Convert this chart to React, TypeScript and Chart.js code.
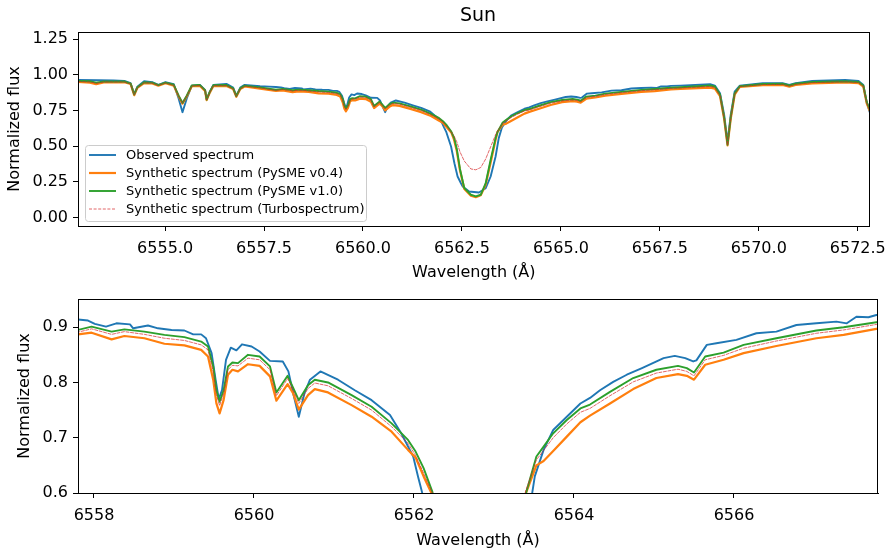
import React, { useEffect, useRef } from "react";
import { Chart, registerables } from "chart.js";

Chart.register(...registerables);

// ---------- data ----------
const obsWavelength = [
  6552.8, 6553.3, 6553.7, 6553.97, 6554.13, 6554.22, 6554.3, 6554.47, 6554.675, 6554.83,
  6555.01, 6555.22, 6555.34, 6555.44, 6555.55, 6555.675, 6555.88, 6556.01, 6556.05, 6556.13,
  6556.22, 6556.55, 6556.72, 6556.8, 6556.9, 6557.01, 6557.4, 6557.63, 6557.8, 6557.925,
  6558.01, 6558.15, 6558.28, 6558.45, 6558.49, 6558.675, 6558.8, 6558.97, 6559.13, 6559.24,
  6559.34, 6559.4, 6559.47, 6559.52, 6559.56, 6559.6, 6559.65, 6559.71, 6559.78, 6559.85,
  6559.97, 6560.07, 6560.2, 6560.36, 6560.43, 6560.49, 6560.56, 6560.63, 6560.7, 6560.83,
  6561.05, 6561.26, 6561.47, 6561.7, 6561.84, 6561.99, 6562.05, 6562.1, 6562.225, 6562.31,
  6562.39, 6562.475, 6562.52, 6562.68, 6562.93, 6563.1, 6563.225, 6563.35, 6563.43, 6563.51,
  6563.62, 6563.74, 6563.91, 6564.08, 6564.2, 6564.325, 6564.49, 6564.66, 6564.85, 6565.12,
  6565.26, 6565.39, 6565.49, 6565.53, 6565.66, 6565.78, 6566.03, 6566.28, 6566.53, 6566.78,
  6567.03, 6567.28, 6567.41, 6567.53, 6567.68, 6567.78, 6568.02, 6568.77, 6568.89, 6569.02,
  6569.125, 6569.21, 6569.29, 6569.39, 6569.52, 6570.1, 6570.6, 6570.77, 6570.93, 6571.35,
  6572.18, 6572.52, 6572.64, 6572.725, 6572.8,
];
const obsFlux = [
  0.963, 0.962, 0.96, 0.957, 0.941, 0.864, 0.917, 0.955, 0.948, 0.929,
  0.948, 0.934, 0.836, 0.738, 0.836, 0.924, 0.929, 0.894, 0.829, 0.882,
  0.929, 0.936, 0.91, 0.854, 0.91, 0.929, 0.92, 0.917, 0.914, 0.912,
  0.906, 0.901, 0.907, 0.905, 0.898, 0.903, 0.898, 0.895, 0.894, 0.887,
  0.887, 0.88, 0.853, 0.805, 0.77, 0.786, 0.841, 0.863, 0.858, 0.869,
  0.865, 0.856, 0.839, 0.838, 0.82, 0.78, 0.738, 0.78, 0.805, 0.82,
  0.805, 0.786, 0.768, 0.741, 0.708, 0.666, 0.63, 0.602, 0.497, 0.38,
  0.287, 0.24, 0.217, 0.182, 0.175, 0.205, 0.287, 0.427, 0.556, 0.63,
  0.678, 0.714, 0.738, 0.762, 0.772, 0.786, 0.801, 0.814, 0.826, 0.844,
  0.848, 0.844, 0.838, 0.84, 0.868, 0.871, 0.877, 0.889, 0.892, 0.904,
  0.907, 0.91, 0.907, 0.919, 0.918, 0.922, 0.924, 0.934, 0.924, 0.871,
  0.719, 0.53, 0.719, 0.882, 0.924, 0.941, 0.941, 0.929, 0.941, 0.957,
  0.964, 0.957, 0.929, 0.812, 0.74,
];

const synthWavelength = [
  6552.8, 6553.1, 6553.26, 6553.45, 6553.97, 6554.13, 6554.22, 6554.3, 6554.47, 6554.675,
  6554.83, 6555.01, 6555.22, 6555.34, 6555.44, 6555.55, 6555.675, 6555.88, 6556.01, 6556.05,
  6556.13, 6556.22, 6556.55, 6556.72, 6556.8, 6556.9, 6557.01, 6557.4, 6557.8, 6557.97,
  6558.22, 6558.38, 6558.63, 6558.88, 6559.13, 6559.34, 6559.425, 6559.49, 6559.53, 6559.57,
  6559.62, 6559.675, 6559.73, 6559.8, 6559.925, 6560.07, 6560.2, 6560.28, 6560.42, 6560.49,
  6560.56, 6560.675, 6560.76, 6560.925, 6561.22, 6561.47, 6561.72, 6561.925, 6562.02, 6562.12,
  6562.23, 6562.3, 6562.37, 6562.45, 6562.56, 6562.725, 6562.85, 6562.975, 6563.1, 6563.225,
  6563.35, 6563.4, 6563.53, 6563.62, 6563.74, 6563.91, 6564.08, 6564.2, 6564.45, 6564.74,
  6565.03, 6565.3, 6565.41, 6565.5, 6565.64, 6565.87, 6566.12, 6566.53, 6567.03, 6567.37,
  6567.78, 6568.02, 6568.77, 6568.89, 6569.02, 6569.125, 6569.21, 6569.29, 6569.39, 6569.52,
  6570.1, 6570.6, 6570.77, 6570.93, 6571.35, 6572.18, 6572.52, 6572.64, 6572.725, 6572.8,
];
const pysme04Flux = [
  0.95, 0.945, 0.935, 0.946, 0.948, 0.935, 0.857, 0.908, 0.941, 0.94,
  0.924, 0.941, 0.924, 0.85, 0.798, 0.85, 0.92, 0.922, 0.887, 0.822,
  0.875, 0.921, 0.922, 0.9, 0.846, 0.9, 0.918, 0.903, 0.887, 0.89,
  0.878, 0.884, 0.88, 0.87, 0.867, 0.859, 0.847, 0.805, 0.762, 0.744,
  0.768, 0.814, 0.823, 0.82, 0.833, 0.83, 0.811, 0.767, 0.797, 0.78,
  0.751, 0.777, 0.788, 0.782, 0.759, 0.738, 0.711, 0.678, 0.664, 0.63,
  0.596, 0.545, 0.465, 0.33, 0.2, 0.152, 0.142, 0.155, 0.23, 0.385,
  0.545, 0.6, 0.65, 0.658, 0.676, 0.702, 0.728, 0.74, 0.762, 0.788,
  0.808, 0.815, 0.812, 0.805, 0.832, 0.841, 0.853, 0.866, 0.88, 0.886,
  0.897, 0.901, 0.91, 0.903, 0.85, 0.69, 0.505, 0.69, 0.86, 0.915,
  0.927, 0.929, 0.917, 0.929, 0.94, 0.947, 0.941, 0.918, 0.8, 0.75,
];
const pysme10Flux = [
  0.957, 0.955, 0.945, 0.953, 0.953, 0.938, 0.862, 0.912, 0.948, 0.945,
  0.928, 0.945, 0.93, 0.855, 0.803, 0.855, 0.925, 0.928, 0.892, 0.826,
  0.88, 0.927, 0.928, 0.905, 0.85, 0.905, 0.924, 0.912, 0.895, 0.901,
  0.892, 0.896, 0.892, 0.886, 0.882, 0.874, 0.865, 0.829, 0.786, 0.765,
  0.786, 0.829, 0.836, 0.835, 0.85, 0.847, 0.829, 0.782, 0.812, 0.79,
  0.768, 0.795, 0.805, 0.8, 0.777, 0.756, 0.726, 0.696, 0.675, 0.645,
  0.602, 0.56, 0.48, 0.34, 0.205, 0.159, 0.147, 0.159, 0.24, 0.404,
  0.556, 0.6, 0.666, 0.684, 0.708, 0.732, 0.753, 0.76, 0.783, 0.808,
  0.823, 0.83, 0.826, 0.818, 0.847, 0.854, 0.868, 0.88, 0.894, 0.9,
  0.909, 0.913, 0.925, 0.918, 0.862, 0.7, 0.51, 0.7, 0.87, 0.92,
  0.935, 0.937, 0.925, 0.937, 0.95, 0.955, 0.95, 0.925, 0.81, 0.76,
];
const turboFlux = [
  0.953, 0.95, 0.94, 0.95, 0.95, 0.936, 0.86, 0.91, 0.945, 0.942,
  0.926, 0.943, 0.927, 0.852, 0.8, 0.852, 0.922, 0.925, 0.89, 0.824,
  0.878, 0.924, 0.925, 0.902, 0.848, 0.902, 0.921, 0.908, 0.891, 0.897,
  0.887, 0.892, 0.887, 0.88, 0.876, 0.868, 0.859, 0.82, 0.778, 0.758,
  0.78, 0.823, 0.831, 0.83, 0.844, 0.841, 0.823, 0.776, 0.807, 0.786,
  0.762, 0.789, 0.799, 0.794, 0.771, 0.75, 0.72, 0.69, 0.668, 0.636,
  0.6, 0.57, 0.53, 0.46, 0.395, 0.34, 0.334, 0.35, 0.41, 0.495,
  0.58, 0.605, 0.66, 0.677, 0.7, 0.725, 0.746, 0.753, 0.776, 0.801,
  0.817, 0.824, 0.82, 0.812, 0.841, 0.849, 0.862, 0.875, 0.889, 0.895,
  0.905, 0.908, 0.918, 0.911, 0.856, 0.695, 0.508, 0.695, 0.865, 0.918,
  0.931, 0.933, 0.921, 0.933, 0.945, 0.951, 0.946, 0.922, 0.805, 0.755,
];

const seriesLabels = [
  "Observed spectrum",
  "Synthetic spectrum (PySME v0.4)",
  "Synthetic spectrum (PySME v1.0)",
  "Synthetic spectrum (Turbospectrum)",
];
const chartTitle = "Sun";
const xAxisTitle = "Wavelength (Å)";
const yAxisTitle = "Normalized flux";

const topXTicks = [6555.0, 6557.5, 6560.0, 6562.5, 6565.0, 6567.5, 6570.0, 6572.5];
const topYTicks = [0.0, 0.25, 0.5, 0.75, 1.0, 1.25];
const bottomXTicks = [6558, 6560, 6562, 6564, 6566];
const bottomYTicks = [0.6, 0.7, 0.8, 0.9];

// ---------- styles ----------
const FONT = '"DejaVu Sans", "Liberation Sans", sans-serif';
const seriesStyles = [
  { color: "#1f77b4", width: 1.9, dash: [] as number[] },
  { color: "#ff7f0e", width: 2.2, dash: [] as number[] },
  { color: "#2ca02c", width: 1.9, dash: [] as number[] },
  { color: "rgba(214,39,40,0.7)", width: 1, dash: [3, 1.6] },
];

const toPoints = (xs: number[], ys: number[]) => xs.map((x, i) => ({ x, y: ys[i] }));

function makeDatasets() {
  const sources = [
    [obsWavelength, obsFlux],
    [synthWavelength, pysme04Flux],
    [synthWavelength, pysme10Flux],
    [synthWavelength, turboFlux],
  ];
  return sources.map(([xs, ys], i) => ({
    label: seriesLabels[i],
    data: toPoints(xs, ys),
    borderColor: seriesStyles[i].color,
    backgroundColor: seriesStyles[i].color,
    borderWidth: seriesStyles[i].width,
    borderDash: seriesStyles[i].dash,
    borderJoinStyle: "round",
    borderCapStyle: "round",
    pointRadius: 0,
    tension: 0,
    fill: false,
    order: 4 - i,
  }));
}

const framePlugin = {
  id: "frame",
  afterDatasetsDraw(chart: any) {
    const { ctx, chartArea: a } = chart;
    ctx.save();
    ctx.strokeStyle = "#000";
    ctx.lineWidth = 1;
    ctx.strokeRect(Math.round(a.left) + 0.5, Math.round(a.top) + 0.5, Math.round(a.right - a.left) - 1, Math.round(a.bottom - a.top));
    ctx.restore();
  },
};

function axisConfig(opts: {
  min: number;
  max: number;
  ticks: number[];
  decimals: number;
  fit: number;
  horizontal: boolean;
  titlePad: number;
}) {
  return {
    type: "linear",
    min: opts.min,
    max: opts.max,
    afterBuildTicks: (scale: any) => {
      scale.ticks = opts.ticks.map((v) => ({ value: v }));
    },
    afterFit: (scale: any) => {
      if (opts.horizontal) scale.height = opts.fit;
      else scale.width = opts.fit;
    },
    ticks: {
      color: "#000",
      font: { family: FONT, size: 16 },
      padding: opts.horizontal ? 8 : 5,
      maxRotation: 0,
      autoSkip: false,
      callback: (v: any) => Number(v).toFixed(opts.decimals),
    },
    grid: {
      drawOnChartArea: false,
      drawTicks: true,
      tickLength: 5,
      color: "#000",
      lineWidth: 1,
    },
    border: { display: true, color: "#000", width: 1 },
    title: {
      display: true,
      text: opts.horizontal ? xAxisTitle : yAxisTitle,
      color: "#000",
      font: { family: FONT, size: 16 },
      padding: opts.horizontal ? { top: 0, bottom: opts.titlePad } : { top: opts.titlePad, bottom: 0 },
    },
  };
}

const titlePlugin = {
  id: "sunTitle",
  afterDraw(chart: any) {
    const { ctx } = chart;
    ctx.save();
    ctx.fillStyle = "#000";
    ctx.font = `19px ${FONT}`;
    ctx.textAlign = "center";
    ctx.textBaseline = "middle";
    ctx.fillText(chartTitle, 478, 16);
    ctx.restore();
  },
};

const legendPlugin = {
  id: "insideLegend",
  afterDraw(chart: any) {
    const { ctx } = chart;
    ctx.save();
    ctx.beginPath();
    ctx.roundRect(85.5, 145.5, 281, 76, 3);
    ctx.fillStyle = "rgba(255,255,255,0.8)";
    ctx.fill();
    ctx.strokeStyle = "#cccccc";
    ctx.lineWidth = 1;
    ctx.stroke();
    const rows = [155, 173, 191, 209];
    seriesLabels.forEach((label, i) => {
      const st = seriesStyles[i];
      ctx.beginPath();
      ctx.setLineDash(st.dash);
      ctx.strokeStyle = st.color;
      ctx.lineWidth = st.width;
      ctx.moveTo(89, rows[i]);
      ctx.lineTo(116, rows[i]);
      ctx.stroke();
      ctx.setLineDash([]);
      ctx.fillStyle = "#000";
      ctx.font = `13px ${FONT}`;
      ctx.textAlign = "left";
      ctx.textBaseline = "middle";
      ctx.fillText(label, 126, rows[i] + 0.5);
    });
    ctx.restore();
  },
};

function TopChart() {
  const ref = useRef<HTMLCanvasElement | null>(null);
  useEffect(() => {
    if (!ref.current) return;
    const chart = new Chart(ref.current, {
      type: "line",
      data: { datasets: makeDatasets() as any },
      options: {
        responsive: false,
        animation: false,
        events: [],
        layout: { padding: { top: 32, right: 16, left: 0, bottom: 0 } },
        plugins: { legend: { display: false }, tooltip: { enabled: false }, title: { display: false } },
        scales: {
          x: axisConfig({ min: 6552.8, max: 6572.8, ticks: topXTicks, decimals: 1, fit: 64, horizontal: true, titlePad: 7.2 }) as any,
          y: axisConfig({ min: -0.06, max: 1.3, ticks: topYTicks, decimals: 2, fit: 78, horizontal: false, titlePad: 5.4 }) as any,
        },
      },
      plugins: [framePlugin, titlePlugin, legendPlugin],
    });
    return () => chart.destroy();
  }, []);
  return <canvas ref={ref} width={894} height={290} style={{ position: "absolute", left: 0, top: 0 }} />;
}

function BottomChart() {
  const ref = useRef<HTMLCanvasElement | null>(null);
  useEffect(() => {
    if (!ref.current) return;
    const chart = new Chart(ref.current, {
      type: "line",
      data: { datasets: makeDatasets() as any },
      options: {
        responsive: false,
        animation: false,
        events: [],
        layout: { padding: { top: 19, right: 16, left: 0, bottom: 0 } },
        plugins: { legend: { display: false }, tooltip: { enabled: false }, title: { display: false } },
        scales: {
          x: axisConfig({ min: 6557.8, max: 6567.8, ticks: bottomXTicks, decimals: 0, fit: 60, horizontal: true, titlePad: 2.2 }) as any,
          y: axisConfig({ min: 0.6, max: 0.951, ticks: bottomYTicks, decimals: 1, fit: 78, horizontal: false, titlePad: 15.4 }) as any,
        },
      },
      plugins: [framePlugin],
    });
    return () => chart.destroy();
  }, []);
  return <canvas ref={ref} width={894} height={273} style={{ position: "absolute", left: 0, top: 280 }} />;
}

export default function App() {
  return (
    <div style={{ position: "fixed", left: 0, top: 0, width: 894, height: 553, background: "#fff" }}>
      <TopChart />
      <BottomChart />
    </div>
  );
}
